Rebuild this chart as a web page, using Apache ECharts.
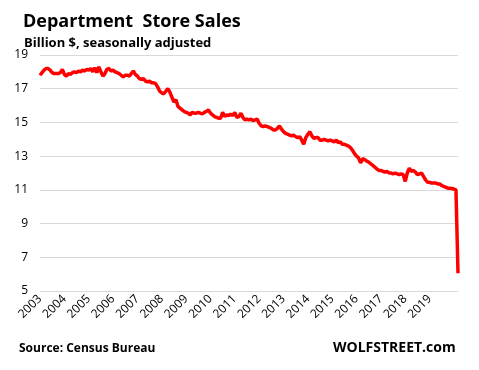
<!DOCTYPE html>
<html>
<head>
<meta charset="utf-8">
<script src="https://cdn.jsdelivr.net/npm/echarts@6/dist/echarts.min.js"></script>
<style>html,body{margin:0;padding:0;background:#fff}#c{width:479px;height:370px}</style>
</head>
<body>
<div id="c"></div>
<script>
const years = [2003,2004,2005,2006,2007,2008,2009,2010,2011,2012,2013,2014,2015,2016,2017,2018,2019,2020];
const yTicks = [5,7,9,11,13,15,17,19];
const s2003 = [17.8, 17.95, 18.1, 18.2, 18.2, 18.1, 17.95, 17.9, 17.9, 17.9, 17.95, 18.15];
const s2004 = [17.85, 17.75, 17.9, 17.85, 17.95, 18.0, 17.95, 18.05, 18.0, 18.1, 18.05, 18.15];
const s2005 = [18.1, 18.2, 18.0, 18.25, 17.95, 18.3, 18.0, 17.75, 17.9, 18.15, 18.2, 18.05];
const s2006 = [18.1, 18.0, 17.95, 17.9, 17.8, 17.7, 17.8, 17.8, 17.75, 17.9, 18.05, 17.85];
const s2007 = [17.75, 17.6, 17.55, 17.6, 17.45, 17.4, 17.45, 17.35, 17.35, 17.3, 17.1, 16.85];
const s2008 = [16.75, 16.7, 16.85, 17.0, 16.8, 16.5, 16.2, 16.35, 15.95, 15.85, 15.75, 15.65];
const s2009 = [15.6, 15.55, 15.45, 15.6, 15.55, 15.55, 15.6, 15.55, 15.5, 15.6, 15.65, 15.75];
const s2010 = [15.55, 15.45, 15.35, 15.3, 15.25, 15.25, 15.6, 15.35, 15.45, 15.4, 15.5, 15.4];
const s2011 = [15.6, 15.3, 15.35, 15.55, 15.3, 15.15, 15.2, 15.15, 15.2, 15.1, 15.15, 15.2];
const s2012 = [14.95, 14.8, 14.75, 14.8, 14.75, 14.7, 14.65, 14.55, 14.55, 14.65, 14.8, 14.6];
const s2013 = [14.45, 14.35, 14.3, 14.25, 14.2, 14.25, 14.15, 14.1, 14.15, 13.95, 13.7, 14.1];
const s2014 = [14.3, 14.45, 14.2, 14.05, 14.1, 14.1, 13.95, 13.95, 14.0, 13.95, 13.9, 13.95];
const s2015 = [13.9, 13.85, 13.95, 13.8, 13.85, 13.7, 13.7, 13.65, 13.6, 13.5, 13.35, 13.15];
const s2016 = [13.0, 12.9, 12.6, 12.85, 12.8, 12.7, 12.65, 12.55, 12.45, 12.35, 12.25, 12.15];
const s2017 = [12.15, 12.1, 12.05, 12.1, 12.0, 12.0, 11.95, 12.0, 11.95, 11.9, 11.95, 11.9];
const s2018 = [11.5, 12.0, 12.28, 12.1, 12.15, 12.05, 11.9, 11.95, 12.0, 11.8, 11.6, 11.45];
const s2019 = [11.45, 11.4, 11.4, 11.4, 11.35, 11.35, 11.25, 11.2, 11.15, 11.1, 11.1, 11.08];
const s2020 = [11.05, 11.0, 6.05];

const yearly = [s2003,s2004,s2005,s2006,s2007,s2008,s2009,s2010,s2011,s2012,s2013,s2014,s2015,s2016,s2017,s2018,s2019,s2020];
const cats = [], vals = [];
yearly.forEach((arr, i) => arr.forEach((v, m) => { cats.push(years[i] + '-' + (m + 1)); vals.push(v); }));

const F = '"Open Sans", "Noto Sans", sans-serif';
const chart = echarts.init(document.getElementById('c'), null, {renderer: 'canvas'});
chart.setOption({
  animation: false,
  backgroundColor: '#fff',
  title: [
    {text: 'Department  Store Sales', left: 18, top: 8, textStyle: {fontFamily: F, fontSize: 18, fontWeight: 'bold', color: '#000'}},
    {text: 'Billion $, seasonally adjusted', left: 19, top: 32, textStyle: {fontFamily: F, fontSize: 13, fontWeight: 'bold', color: '#000'}},
    {text: 'Source: Census Bureau', left: 14, top: 338, textStyle: {fontFamily: F, fontSize: 12, fontWeight: 'bold', color: '#000'}},
    {text: 'WOLFSTREET.com', left: 328, top: 336, textStyle: {fontFamily: F, fontSize: 14, fontWeight: 'bold', color: '#000'}}
  ],
  grid: {left: 40, right: 21, top: 55, bottom: 79, containLabel: false},
  xAxis: {
    type: 'category', data: cats, boundaryGap: false,
    axisLine: {show: false}, axisTick: {show: false},
    axisLabel: {
      interval: (idx) => idx % 12 === 0 && idx < 204,
      rotate: 45, margin: 6, fontFamily: F, fontSize: 12, color: '#000',
      formatter: (v) => v.split('-')[0]
    },
    splitLine: {show: false}
  },
  yAxis: {
    type: 'value', min: yTicks[0], max: yTicks[yTicks.length - 1], interval: 2,
    axisLine: {show: false}, axisTick: {show: false},
    axisLabel: {fontFamily: F, fontSize: 12, color: '#000', margin: 12},
    splitLine: {lineStyle: {color: '#d9d9d9', width: 1}}
  },
  series: [{
    type: 'line', data: vals, showSymbol: false, smooth: false,
    lineStyle: {color: '#ff0000', width: 3.5}, itemStyle: {color: '#ff0000'}
  }]
});
</script>
</body>
</html>
